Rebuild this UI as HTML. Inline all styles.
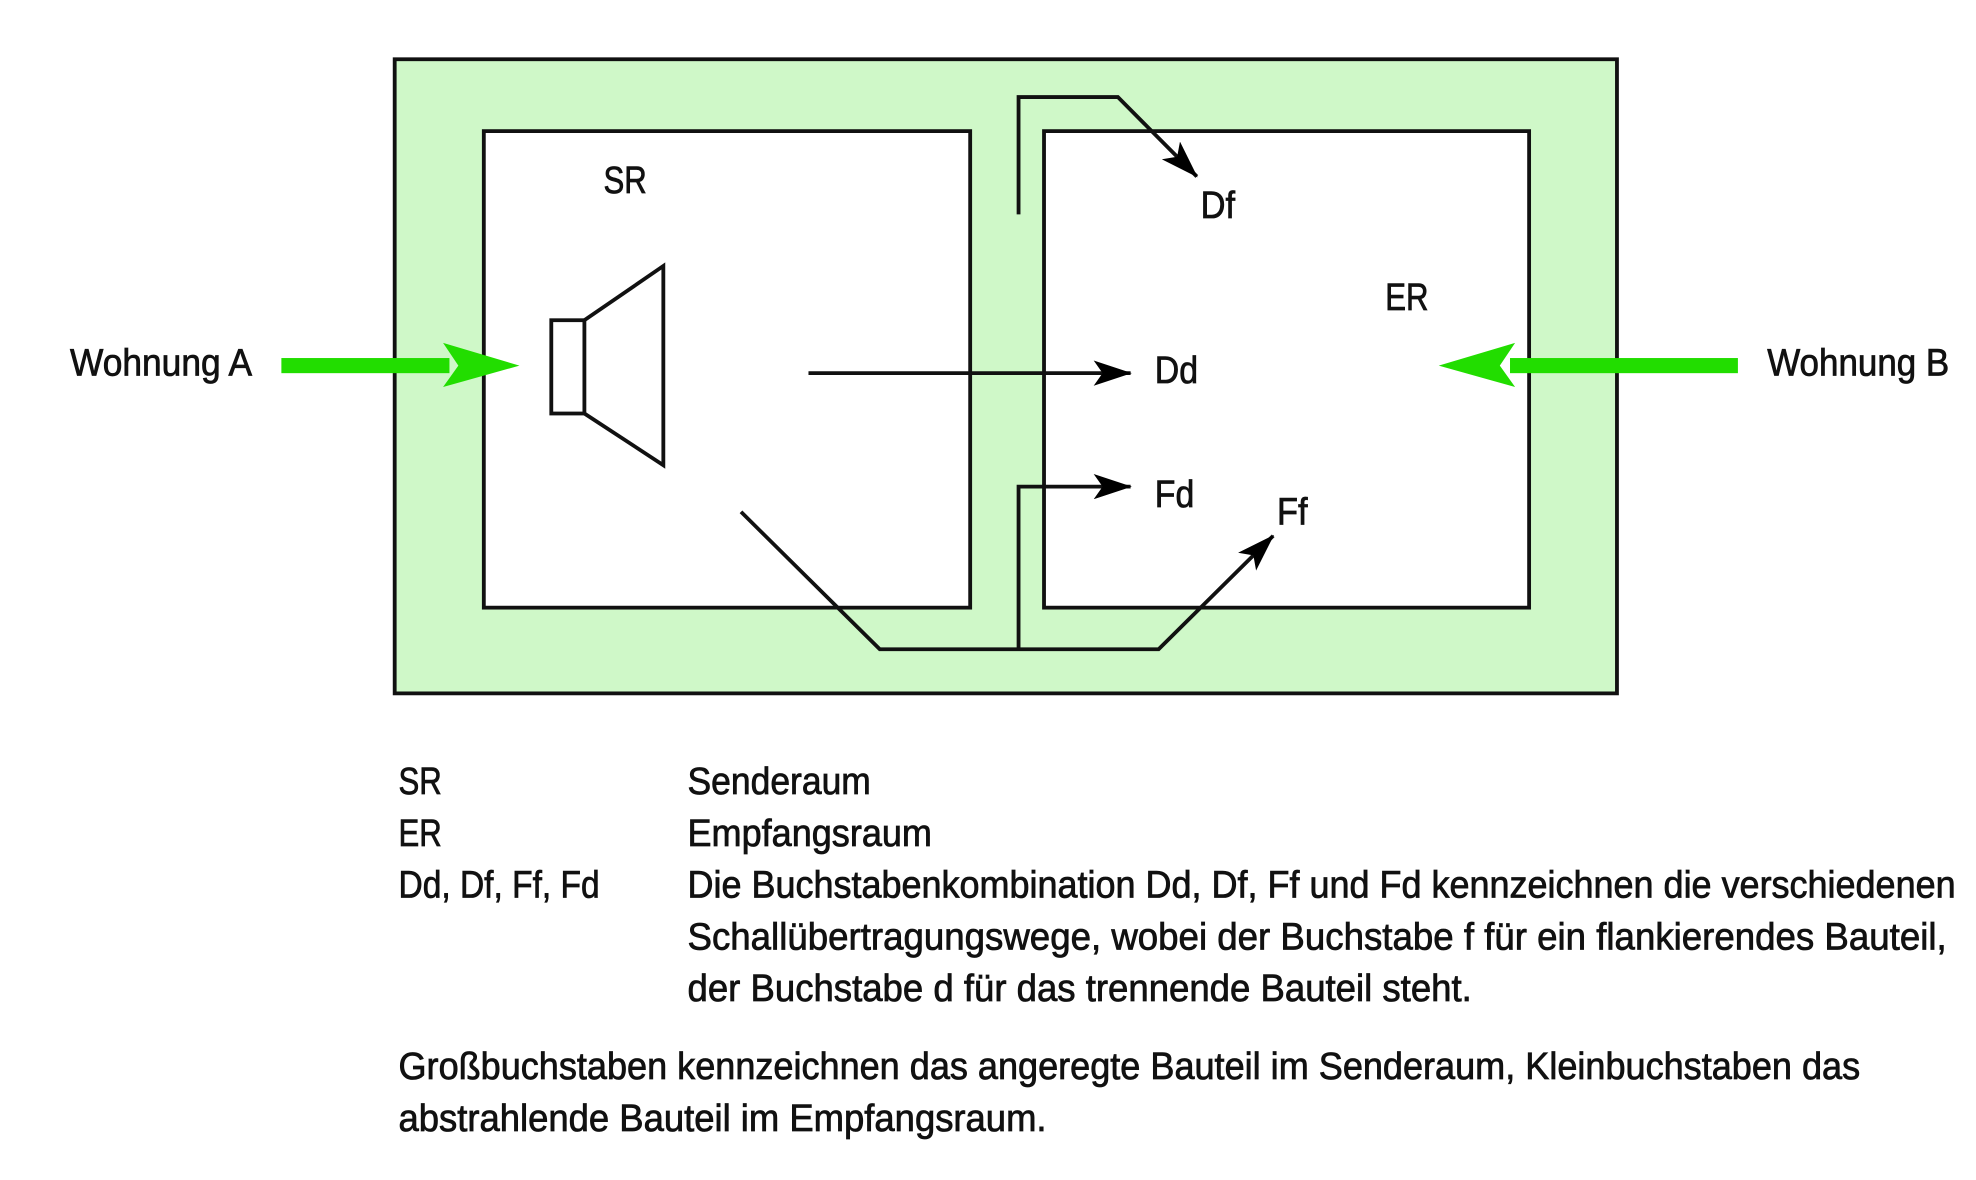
<!DOCTYPE html>
<html><head><meta charset="utf-8"><style>
html,body{margin:0;padding:0;background:#fff;width:1976px;height:1180px;overflow:hidden}
svg{display:block}
text{font-family:"Liberation Sans Narrow","Liberation Sans",sans-serif;font-size:30px;fill:#111;stroke:#111;stroke-width:0.6}
</style></head><body>
<svg width="1976" height="1180" viewBox="0 0 1552 936" preserveAspectRatio="none">
<defs>
<marker id="ah2" markerWidth="30" markerHeight="20" refX="29" refY="10" orient="auto" markerUnits="userSpaceOnUse">
<path d="M0,0 L30,10 L0,20 L7,10 Z" fill="#000"/>
</marker>
</defs>
<rect x="310" y="47" width="960" height="503" fill="#cff8c8" stroke="#111" stroke-width="3"/>
<rect x="380" y="104" width="382" height="378" fill="#fff" stroke="#111" stroke-width="3"/>
<rect x="820" y="104" width="381" height="378" fill="#fff" stroke="#111" stroke-width="3"/>
<rect x="433" y="254" width="26" height="74" fill="#fff" stroke="#111" stroke-width="3"/>
<path d="M459,254 L521,211 L521,369 L459,328" fill="none" stroke="#111" stroke-width="3"/>
<g fill="none" stroke="#111" stroke-width="3">
<path d="M635,296 L888,296" marker-end="url(#ah2)"/>
<path d="M800,170 L800,77 L878,77 L940,140" marker-end="url(#ah2)"/>
<path d="M800,515 L800,386 L888,386" marker-end="url(#ah2)"/>
<path d="M582,406 L691,515 L910,515 L1000,425" marker-end="url(#ah2)"/>
</g>
<rect x="221" y="284" width="132" height="12" fill="#22dd00"/>
<path d="M348,272 L408,290 L348,307 L360,290 Z" fill="#22dd00"/>
<rect x="1186" y="284" width="179" height="12" fill="#22dd00"/>
<path d="M1190,272 L1130,290 L1190,307 L1178,290 Z" fill="#22dd00"/>
<text x="474" y="153" textLength="34" lengthAdjust="spacingAndGlyphs">SR</text>
<text x="943" y="173" textLength="27" lengthAdjust="spacingAndGlyphs">Df</text>
<text x="1088" y="246" textLength="34" lengthAdjust="spacingAndGlyphs">ER</text>
<text x="907" y="304" textLength="34" lengthAdjust="spacingAndGlyphs">Dd</text>
<text x="907" y="402" textLength="31" lengthAdjust="spacingAndGlyphs">Fd</text>
<text x="1003" y="416" textLength="24" lengthAdjust="spacingAndGlyphs">Ff</text>
<text x="55" y="298" textLength="143" lengthAdjust="spacingAndGlyphs">Wohnung A</text>
<text x="1388" y="298" textLength="143" lengthAdjust="spacingAndGlyphs">Wohnung B</text>
<text x="313" y="630" textLength="34" lengthAdjust="spacingAndGlyphs">SR</text>
<text x="540" y="630" textLength="144" lengthAdjust="spacingAndGlyphs">Senderaum</text>
<text x="313" y="671" textLength="34" lengthAdjust="spacingAndGlyphs">ER</text>
<text x="540" y="671" textLength="192" lengthAdjust="spacingAndGlyphs">Empfangsraum</text>
<text x="313" y="712" textLength="158" lengthAdjust="spacingAndGlyphs">Dd, Df, Ff, Fd</text>
<text x="540" y="712" textLength="996" lengthAdjust="spacingAndGlyphs">Die Buchstabenkombination Dd, Df, Ff und Fd kennzeichnen die verschiedenen</text>
<text x="540" y="753" textLength="989" lengthAdjust="spacingAndGlyphs">Schallübertragungswege, wobei der Buchstabe f für ein flankierendes Bauteil,</text>
<text x="540" y="794" textLength="616" lengthAdjust="spacingAndGlyphs">der Buchstabe d für das trennende Bauteil steht.</text>
<text x="313" y="856" textLength="1148" lengthAdjust="spacingAndGlyphs">Großbuchstaben kennzeichnen das angeregte Bauteil im Senderaum, Kleinbuchstaben das</text>
<text x="313" y="897" textLength="509" lengthAdjust="spacingAndGlyphs">abstrahlende Bauteil im Empfangsraum.</text>
</svg>
</body></html>
